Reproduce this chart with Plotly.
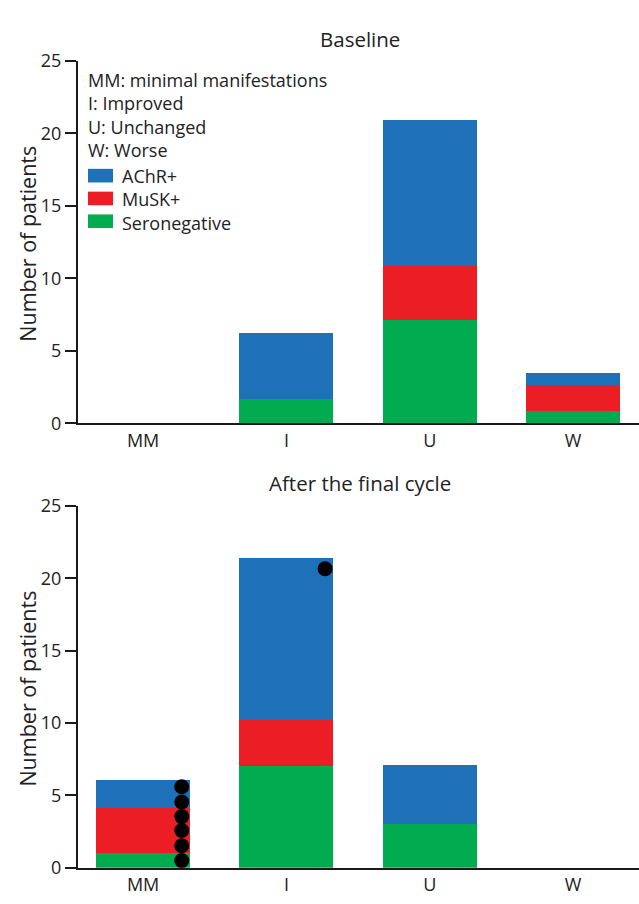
import plotly.graph_objects as go

categories = ["MM", "I", "U", "W"]
series_names = ["AChR+", "MuSK+", "Seronegative"]
series_colors = ["#1e70b8", "#ec1e25", "#00ac4f"]

# Baseline (stacked: seronegative bottom, MuSK+, AChR+ top)
base_seroneg = [0, 1.68, 7.16, 0.83]
base_musk = [0, 0, 3.69, 1.79]
base_achr = [0, 4.54, 10.08, 0.85]

# After the final cycle
final_seroneg = [1.0, 7.05, 3.02, 0]
final_musk = [3.1, 3.13, 0, 0]
final_achr = [1.97, 11.24, 4.1, 0]

# Individual patient dots (category index, value)
dot_cat = [0, 0, 0, 0, 0, 0, 1]
dot_val = [0.49, 1.52, 2.57, 3.53, 4.54, 5.6, 20.67]

y_ticks = [0, 5, 10, 15, 20, 25]
panel_titles = ["Baseline", "After the final cycle"]
y_title = "Number of patients"
notes = ["MM: minimal manifestations", "I: Improved", "U: Unchanged", "W: Worse"]

W, H = 639, 904
FONT = "Open Sans"
TXT = "#222222"
xpos = list(range(len(categories)))
bar_w = 0.656
dot_offset = 0.27

fig = go.Figure()

def add_stack(sero, musk, achr, xa, ya):
    for vals, name, col in [(sero, series_names[2], series_colors[2]),
                            (musk, series_names[1], series_colors[1]),
                            (achr, series_names[0], series_colors[0])]:
        fig.add_trace(go.Bar(x=xpos, y=vals, name=name, width=bar_w,
                             marker=dict(color=col, line=dict(width=0)),
                             xaxis=xa, yaxis=ya, showlegend=False))

add_stack(base_seroneg, base_musk, base_achr, "x", "y")
add_stack(final_seroneg, final_musk, final_achr, "x2", "y2")

fig.add_trace(go.Scatter(x=[c + dot_offset for c in dot_cat], y=dot_val, mode="markers",
                         marker=dict(color="black", size=15, line=dict(width=0)),
                         xaxis="x2", yaxis="y2", showlegend=False))

def px_x(p):
    return p / W

def px_y(p):
    return 1 - p / H

top_dom = [px_y(421.5), px_y(49.3)]
bot_dom = [px_y(878), px_y(506.5)]
x_dom = [px_x(78), 1]

axis_col = "#1a1a1a"
xcommon = dict(domain=x_dom, range=[-0.454, 3.46], tickvals=xpos, ticktext=categories,
               showline=True, linecolor=axis_col, linewidth=2, ticks="", showgrid=False,
               zeroline=False, tickfont=dict(family=FONT, size=18, color=TXT))
ycommon = dict(range=[0, 25], tickvals=y_ticks, showline=True, linecolor=axis_col, linewidth=2,
               ticks="outside", ticklen=11, tickwidth=2, tickcolor=axis_col, showgrid=False,
               zeroline=False, tickfont=dict(family=FONT, size=18, color=TXT))

fig.update_layout(
    width=W, height=H, margin=dict(l=0, r=0, t=0, b=0),
    paper_bgcolor="white", plot_bgcolor="white",
    barmode="stack", showlegend=False, hovermode=False,
    xaxis=dict(anchor="y", **xcommon),
    yaxis=dict(domain=top_dom, anchor="x", **ycommon),
    xaxis2=dict(anchor="y2", **xcommon),
    yaxis2=dict(domain=bot_dom, anchor="x2", **ycommon),
)

ann = []
for t, yy in zip(panel_titles, [26.7, 483.3]):
    ann.append(dict(text=t, x=px_x(360), y=px_y(yy), xref="paper", yref="paper",
                    xanchor="center", yanchor="middle", showarrow=False,
                    font=dict(family=FONT, size=20.5, color=TXT)))
for yy in [237, 694]:
    ann.append(dict(text=y_title, x=px_x(28), y=px_y(yy), xref="paper", yref="paper",
                    xanchor="center", yanchor="middle", textangle=-90, showarrow=False,
                    font=dict(family=FONT, size=21.5, color=TXT)))

LS = 18 * 1.3
ann.append(dict(text="<br>".join(notes), x=px_x(86), y=px_y(104.5), xref="paper", yref="paper",
                xanchor="left", yanchor="middle", align="left", showarrow=False,
                font=dict(family=FONT, size=18, color=TXT)))

shapes = []
leg_center = 190.5
for i, (name, col) in enumerate(zip(series_names, series_colors)):
    cy = leg_center + (i - 1) * LS
    shapes.append(dict(type="rect", xref="paper", yref="paper",
                       x0=px_x(88), x1=px_x(113), y0=px_y(cy + 7), y1=px_y(cy - 7),
                       fillcolor=col, line=dict(width=0)))
ann.append(dict(text="<br>".join(series_names), x=px_x(120), y=px_y(leg_center + 1), xref="paper",
                yref="paper", xanchor="left", yanchor="middle", align="left", showarrow=False,
                font=dict(family=FONT, size=18, color=TXT)))

fig.update_layout(annotations=ann, shapes=shapes)
fig.write_html("out.html", config={"displayModeBar": False},
               post_script="document.body.style.margin='0';document.body.style.padding='0';")
